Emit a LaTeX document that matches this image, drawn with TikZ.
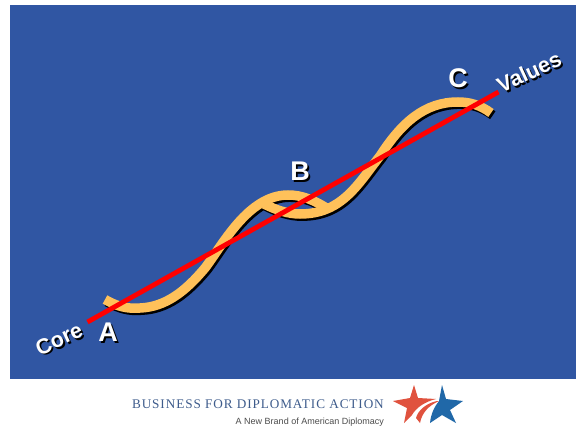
\documentclass[tikz,border=0pt]{standalone}
\usepackage{fontspec}
\setmainfont{Liberation Sans}
\newfontfamily\logoserif[LetterSpace=7]{Liberation Serif}
\definecolor{panel}{RGB}{48,86,163}
\definecolor{wave}{RGB}{255,193,90}
\definecolor{redstar}{RGB}{224,82,62}
\definecolor{bluestar}{RGB}{32,104,168}
\definecolor{logotext}{RGB}{62,92,140}
\tikzset{
  strandone/.pic={\draw[line width=9.5pt,pic actions] (105,299.5) .. controls (118,307) and (128,309) .. (140,308) .. controls (165,307) and (185,292) .. (205,268) .. controls (222,246) and (248,195) .. (288,195) .. controls (302,195) and (314,200) .. (328,209);},
  strandtwo/.pic={\draw[line width=9.5pt,pic actions] (264,204) .. controls (276,210) and (288,214) .. (300,214) .. controls (342,214) and (358,184) .. (380,156) .. controls (402,122) and (425,102) .. (458,102) .. controls (470,102) and (480,105) .. (491,113);},
  bigletter/.style={font=\bfseries\fontsize{27}{27}\selectfont,inner sep=0pt},
  sidelabel/.style={font=\bfseries\fontsize{21.5}{22}\selectfont,inner sep=0pt,rotate=25}
}
\newcommand{\shadowtext}[4]{%
  \node[#1,text=black] (#2s) at ([xshift=1.8pt,yshift=-1.8pt]#3) {#4};
  \node[#1,text=white] (#2) at (#3) {#4};}
\begin{document}
\begin{tikzpicture}[x=1pt,y=-1pt]
\useasboundingbox (0,0) rectangle (576,428);
\fill[white] (0,0) rectangle (576,428);
\fill[panel] (10,5) rectangle (576,379);
\begin{scope}[shift={(1.8,2.2)}]
\pic[draw=black] {strandone};
\pic[draw=black] {strandtwo};
\end{scope}
\pic[draw=wave] {strandone};
\pic[draw=wave] {strandtwo};
\coordinate (coreend) at (87.5,322);
\coordinate (valuesend) at (498.5,92);
\draw[red,line width=4.8pt] (coreend) -- (valuesend);
\shadowtext{bigletter}{la}{108,332}{A}
\shadowtext{bigletter}{lb}{300,171}{B}
\shadowtext{bigletter}{lc}{458,78}{C}
\shadowtext{sidelabel}{lcore}{59,339}{Core}
\shadowtext{sidelabel}{lvalues}{529,72}{Values}
\node[inner sep=0pt,anchor=base east,text=logotext,font=\logoserif\fontsize{13.2}{13}\selectfont] (logoname) at (384,408.5) {BUSINESS FOR DIPLOMATIC ACTION};
\node[inner sep=0pt,anchor=base east,text=black!70,font=\fontsize{9}{9}\selectfont] (logotag) at (384,424) {A New Brand of American Diplomacy};
\fill[redstar] (414,385) -- (418,398) -- (436,399) .. controls (424,402) and (416,408) .. (412,415) -- (404,423) -- (407,408) -- (393,401) -- (410,398) -- cycle;
\fill[redstar] (437,401) .. controls (427,403) and (418,410) .. (416,418) -- (420,423) .. controls (422,413) and (428,406) .. (439,401) -- cycle;
\fill[bluestar] (442,385) -- (446,399) -- (463,401) -- (450,410) -- (456,423) -- (442,415) -- (430,423) .. controls (431,413) and (435,406) .. (439,401) -- cycle;
\end{tikzpicture}
\end{document}
